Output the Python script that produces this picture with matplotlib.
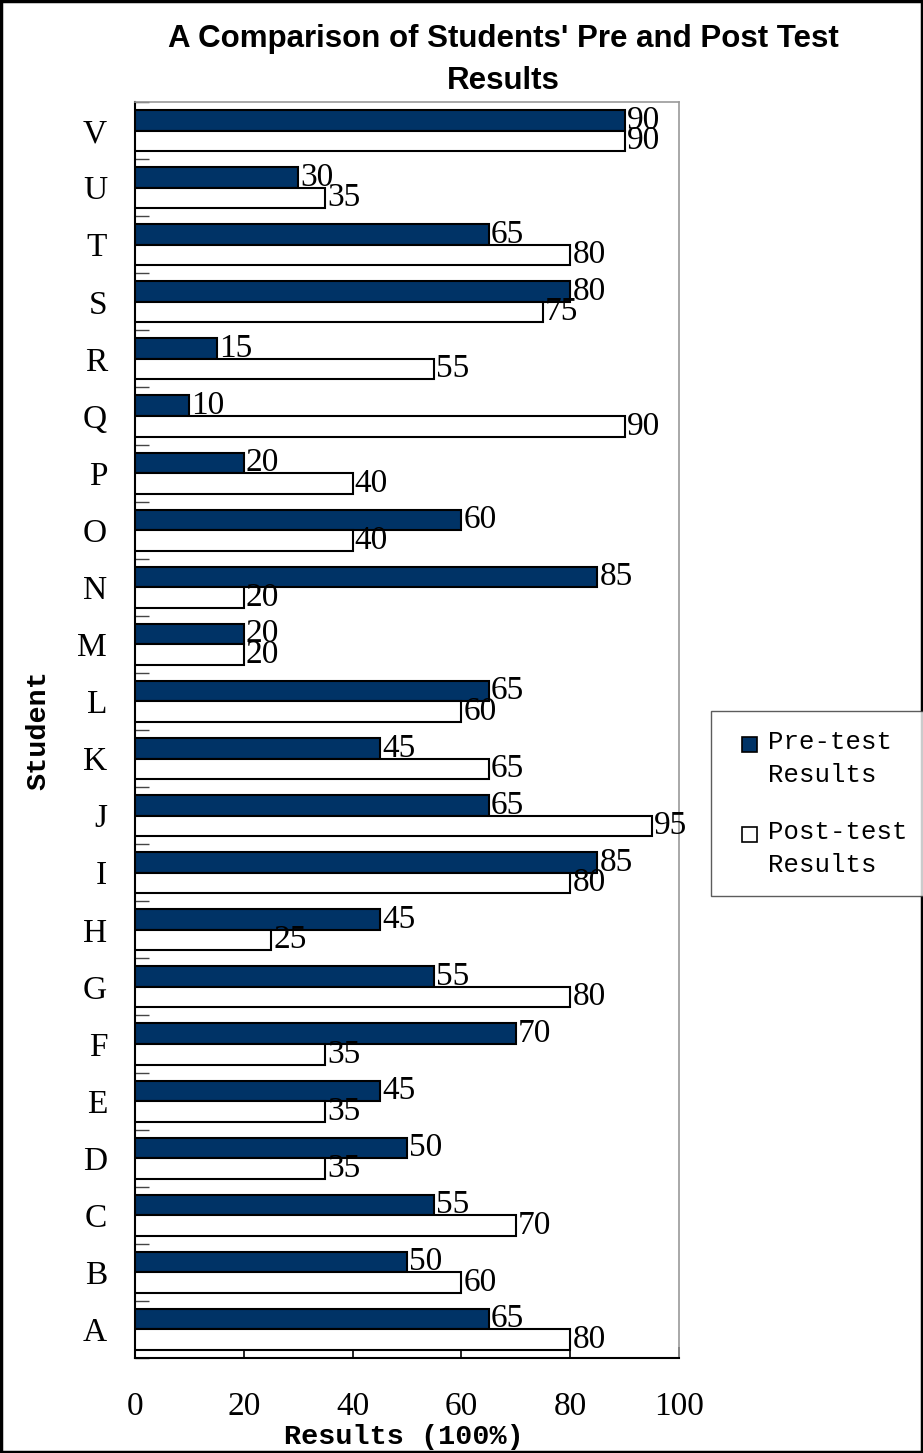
import numpy as np
import matplotlib
matplotlib.use('Agg')
import matplotlib.pyplot as plt
from matplotlib.patches import Patch, Rectangle
from matplotlib.legend_handler import HandlerPatch

students = ['A', 'B', 'C', 'D', 'E', 'F', 'G', 'H', 'I', 'J', 'K',
            'L', 'M', 'N', 'O', 'P', 'Q', 'R', 'S', 'T', 'U', 'V']
pre_test = [65, 50, 55, 50, 45, 70, 55, 45, 85, 65, 45,
            65, 20, 85, 60, 20, 10, 15, 80, 65, 30, 90]
post_test = [80, 60, 70, 35, 35, 35, 80, 25, 80, 95, 65,
             60, 20, 20, 40, 40, 90, 55, 75, 80, 35, 90]
x_ticks = [0, 20, 40, 60, 80, 100]

navy = '#003366'
serif = 'Liberation Serif'
mono = 'Liberation Mono'


# legend square sits at the right of its box, beside the first line of the label
class TopPatch(HandlerPatch):
    def create_artists(self, legend, orig_handle, xdescent, ydescent,
                       width, height, fontsize, trans):
        sq = 0.58 * fontsize
        p = Rectangle((-xdescent + width - sq, -ydescent + 0.6 * fontsize), sq, sq,
                      facecolor=orig_handle.get_facecolor(), edgecolor='black',
                      linewidth=1.2, transform=trans)
        return [p]


W, H = 923, 1453
fig = plt.figure(figsize=(W / 100, H / 100), dpi=100)
ax = fig.add_axes([135 / W, (H - 1358) / H, (679 - 135) / W, (1358 - 102) / H])

y = np.arange(len(students))
h = 0.36
ax.barh(y + h / 2, pre_test, height=h, color=navy, edgecolor='black', linewidth=1.5, zorder=3)
ax.barh(y - h / 2, post_test, height=h, color='white', edgecolor='black', linewidth=1.5, zorder=3)

# value labels
for i in range(len(students)):
    ax.text(pre_test[i] + 0.4, y[i] + h / 2, str(pre_test[i]), va='center', ha='left',
            fontsize=24, family=serif, zorder=4)
    ax.text(post_test[i] + 0.4, y[i] - h / 2, str(post_test[i]), va='center', ha='left',
            fontsize=24, family=serif, zorder=4)

ax.set_xlim(0, 100)
ax.set_ylim(-0.5, len(students) - 0.5)
ax.set_xticks(x_ticks)
ax.set_xticklabels([str(t) for t in x_ticks], family=serif, fontsize=24)
ax.set_yticks(y)
ax.set_yticklabels(students, family=serif, fontsize=24)
ax.set_yticks(np.arange(-0.5, len(students), 1), minor=True)
ax.tick_params(axis='x', direction='in', length=8, width=1.2, pad=24)
ax.tick_params(axis='y', which='major', length=0, pad=20)
ax.tick_params(axis='y', which='minor', direction='in', length=10, width=1, color='#444444')

for s in ['top', 'right']:
    ax.spines[s].set_color('#999999')
    ax.spines[s].set_linewidth(1.2)
ax.spines['left'].set_color('black')
ax.spines['bottom'].set_color('black')
ax.spines['left'].set_linewidth(1.5)
ax.spines['bottom'].set_linewidth(1.5)

fig.text(503 / W, 1 - 60 / H, "A Comparison of Students' Pre and Post Test\nResults",
         ha='center', va='center', fontsize=22.5, fontweight='bold',
         family='Liberation Sans', linespacing=1.5)
fig.text(404 / W, 1 - 1437 / H, 'Results (100%)', ha='center', va='center',
         fontsize=20.5, fontweight='bold', family=mono)
fig.text(38 / W, 1 - 730 / H, 'Student', ha='center', va='center', rotation=90,
         fontsize=20.5, fontweight='bold', family=mono)

handles = [Patch(facecolor=navy, edgecolor='black'),
           Patch(facecolor='white', edgecolor='black')]
leg = fig.legend(handles, ['Pre-test\nResults', 'Post-test\nResults'],
                 loc='upper left', bbox_to_anchor=(711 / W, 1 - 711 / H),
                 borderaxespad=0, fancybox=False, frameon=True,
                 prop={'family': mono, 'size': 18.5},
                 handler_map={Patch: TopPatch()},
                 handlelength=1.05, handleheight=0.58, handletextpad=0.4,
                 labelspacing=1.3, borderpad=0.75)
for t in leg.get_texts():
    t.set_linespacing(1.45)
leg.get_frame().set_edgecolor('#333333')
leg.get_frame().set_linewidth(1)

fig.patches.append(Rectangle((0.001, 0.001), 0.998, 0.998, transform=fig.transFigure,
                             fill=False, edgecolor='black', linewidth=2.5))

fig.savefig('out.png', dpi=100)
